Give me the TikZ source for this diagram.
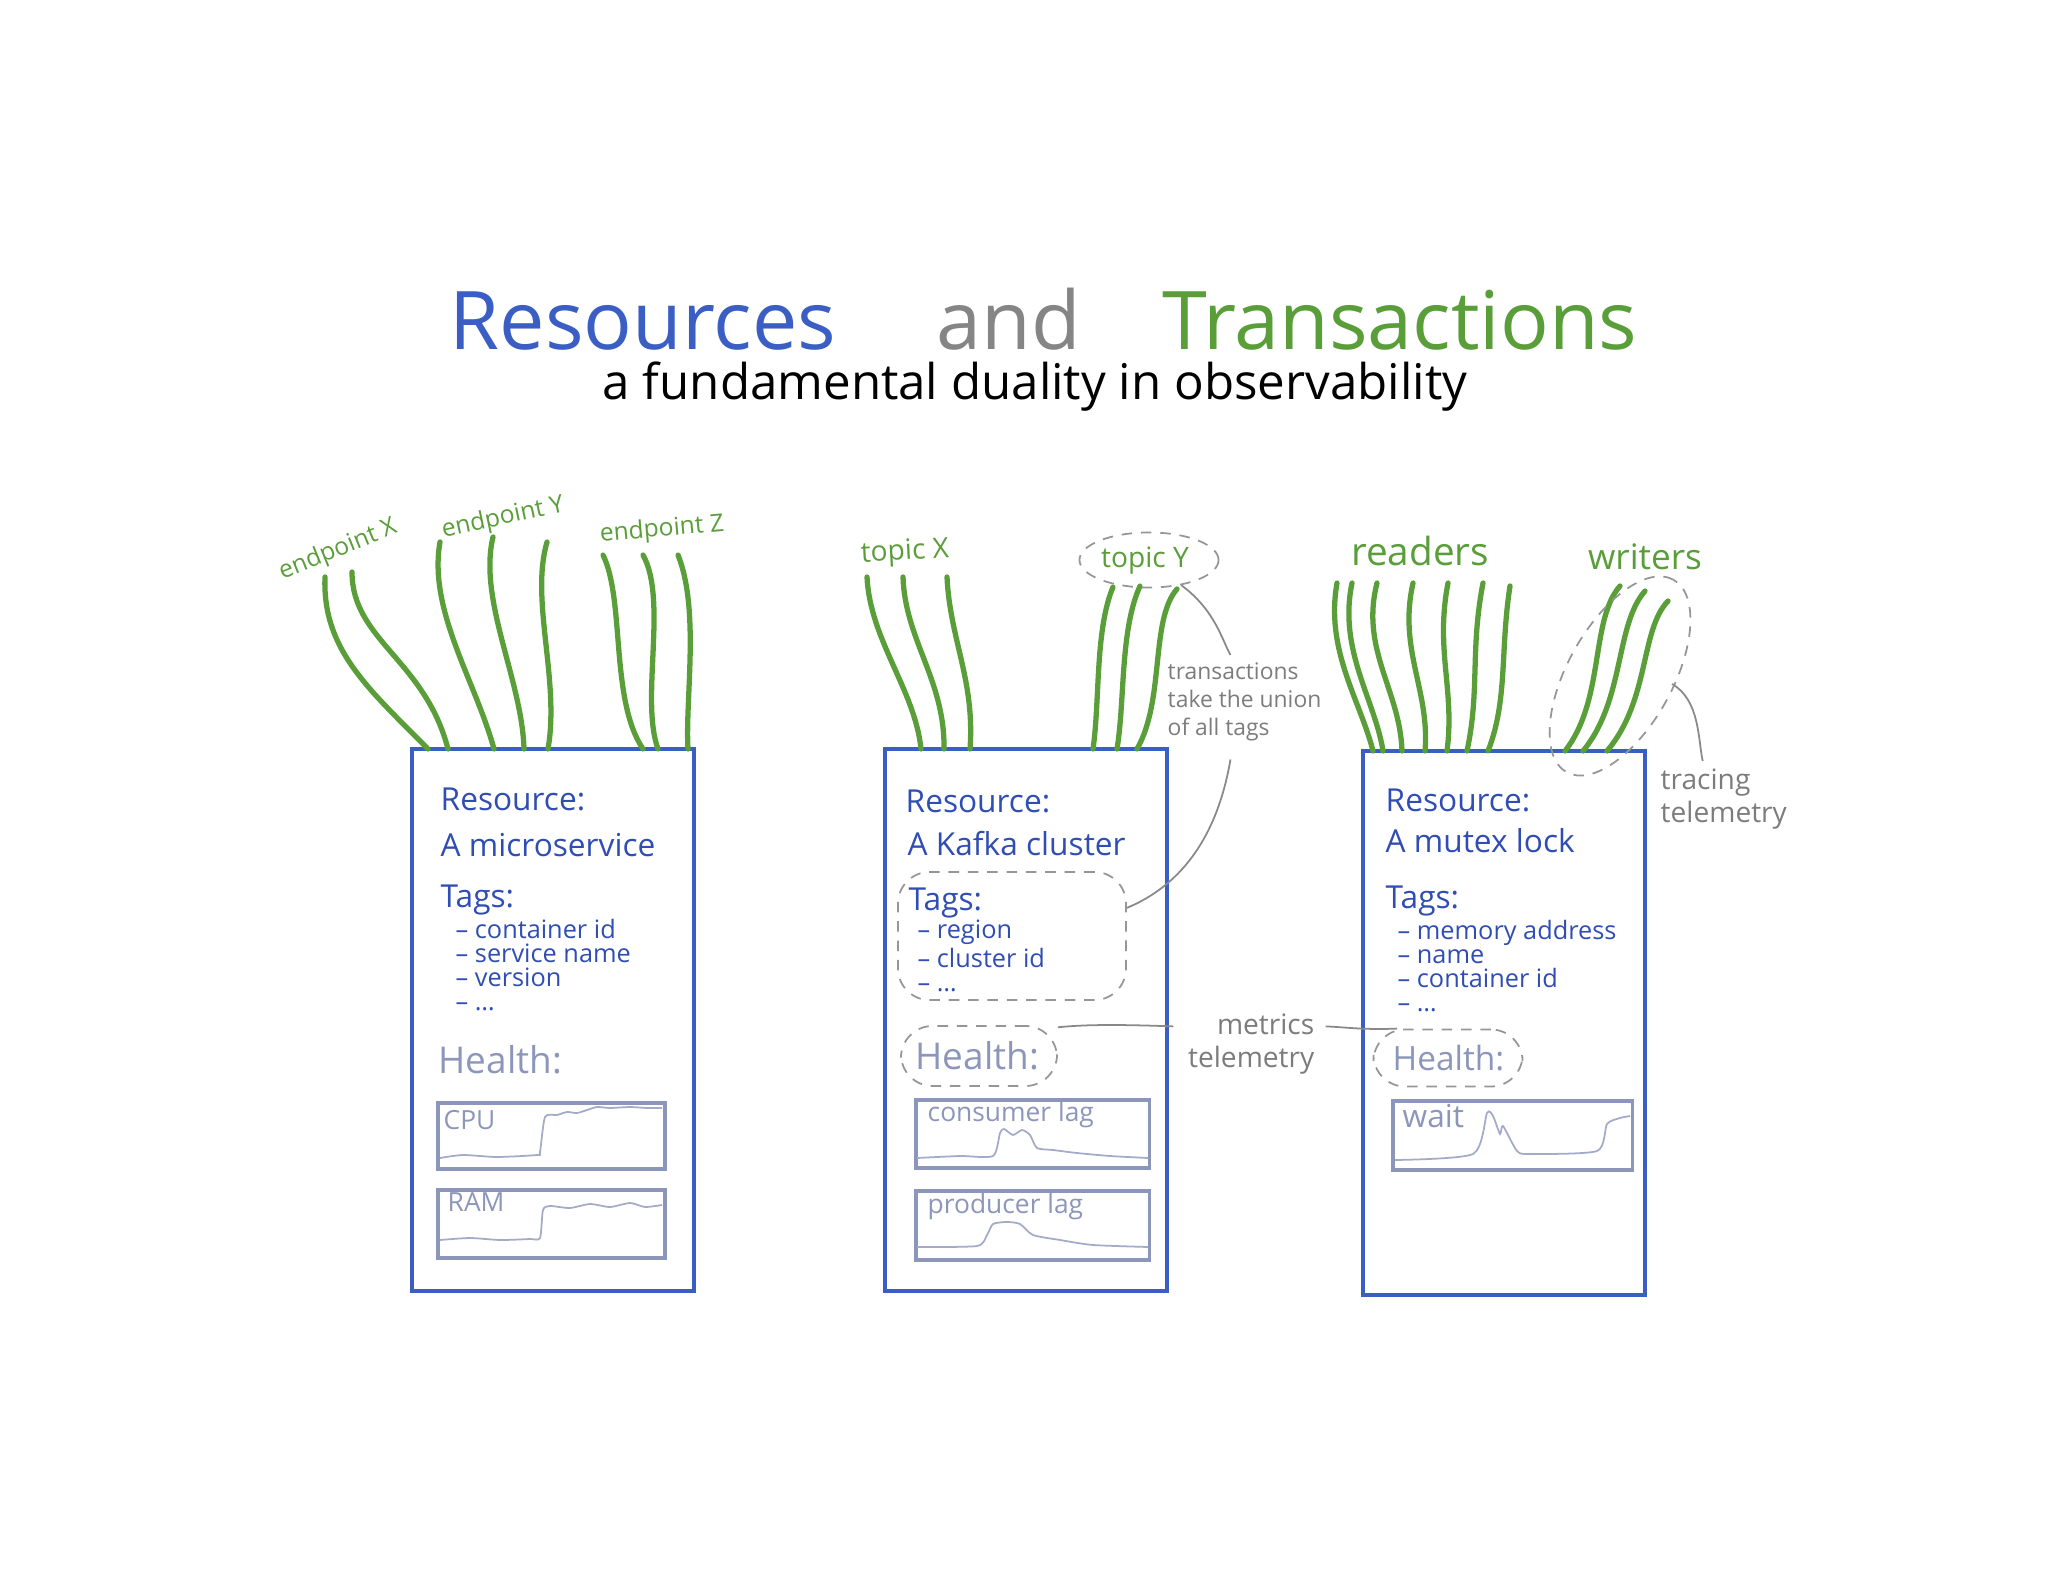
\documentclass[tikz,border=0pt]{standalone}
\usepackage{fontspec}
\setmainfont{Open Sans}
\usetikzlibrary{shapes.geometric}

\definecolor{resblue}{HTML}{3A5EC4}
\definecolor{boxtext}{HTML}{2F4DB3}
\definecolor{txgreen}{HTML}{5A9E3A}
\definecolor{andgray}{HTML}{858585}
\definecolor{healthgray}{HTML}{8C96BA}
\definecolor{notegray}{HTML}{7C7C7C}

\begin{document}
\begin{tikzpicture}[
    x=0.01cm, y=-0.01cm,
    titleword/.style={font=\fontsize{23}{27}\selectfont},
    subtitle/.style={font=\fontsize{14}{16}\selectfont, text=black},
    resbox/.style={draw=resblue, line width=1.1pt, minimum width=2.82cm, minimum height=5.42cm, inner sep=0pt},
    head/.style={anchor=west, inner sep=0pt, text=boxtext, font=\fontsize{9}{11}\selectfont},
    taglist/.style={anchor=north west, align=left, inner sep=0pt, text=boxtext, font=\fontsize{7.2}{6.8}\selectfont},
    healthtxt/.style={anchor=west, inner sep=0pt, text=healthgray, font=\fontsize{10.5}{12}\selectfont},
    chart/.style={draw=healthgray, line width=0.9pt, inner sep=0pt},
    chartlabel/.style={anchor=west, inner sep=0pt, text=healthgray, font=\fontsize{7.5}{9}\selectfont},
    trace/.style={draw=healthgray!80, line width=0.5pt},
    strand/.style={draw=txgreen, line width=1.5pt, line cap=round},
    tlabel/.style={text=txgreen, inner sep=0pt, font=\fontsize{8}{9}\selectfont},
    ring/.style={draw=notegray!80, dashed, dash pattern=on 3pt off 2.5pt, line width=0.5pt, rounded corners=9pt, inner sep=0pt},
    leader/.style={draw=notegray!90, line width=0.5pt},
    note/.style={text=notegray, inner sep=0pt, font=\fontsize{8}{9.4}\selectfont}
]
\useasboundingbox (0,0) rectangle (2049,1589);

% title
\node[titleword, text=resblue, anchor=base] (wres) at (643,350) {Resources};
\node[titleword, text=andgray, anchor=base] (wand) at (1009,350) {and};
\node[titleword, text=txgreen, anchor=base] (wtx) at (1400,350) {Transactions};
\node[subtitle, anchor=base] (sub) at (1035,400) {a fundamental duality in observability};

% the three resources
\node[resbox] (box1) at (553,1020) {};
\node[resbox] (box2) at (1026,1020) {};
\node[resbox, minimum height=5.44cm] (box3) at (1504,1023) {};

% microservice
\node[head] (m-res) at (440,799) {Resource:};
\node[head] (m-name) at (440,845) {A microservice};
\node[head] (m-tags) at (440,900) {Tags:};
\node[taglist] (m-list) at (455,919) {-- container id\\-- service name\\-- version\\-- \dots};
\node[healthtxt] (m-health) at (438,1060) {Health:};

\node[chart, minimum width=2.27cm, minimum height=0.66cm] (cpu) at (551.5,1136) {};
\node[chartlabel] at (443,1120) {CPU};
\draw[trace] plot[smooth, tension=0.4] coordinates {(440,1158) (463,1155) (497,1157) (537,1155) (540,1152) (545,1117) (557,1115) (567,1112) (577,1113) (587,1110) (597,1107) (610,1108) (630,1107) (647,1108) (662,1108)};

\node[chart, minimum width=2.27cm, minimum height=0.68cm] (ram) at (551.5,1224) {};
\node[chartlabel] at (447,1202) {RAM};
\draw[trace] plot[smooth, tension=0.4] coordinates {(440,1240) (470,1238) (500,1240) (530,1239) (540,1238) (543,1210) (550,1206) (570,1208) (590,1204) (610,1207) (630,1203) (645,1207) (662,1205)};

% kafka cluster
\node[head] (k-res) at (905,801) {Resource:};
\node[head] (k-name) at (907,844) {A Kafka cluster};
\node[head] (k-tags) at (908,903) {Tags:};
\node[taglist] (k-list) at (917,919) {-- region\\-- cluster id\\-- \dots};
\node[healthtxt] (k-health) at (915,1056) {Health:};
\node[ring, minimum width=2.28cm, minimum height=1.28cm] (tagring) at (1012,936) {};
\node[ring, minimum width=1.56cm, minimum height=0.6cm] (hring2) at (979,1056) {};

\node[chart, minimum width=2.33cm, minimum height=0.68cm] (clag) at (1032.5,1134) {};
\node[chartlabel] at (927,1115) {consumer lag};
\draw[trace] plot[smooth, tension=0.4] coordinates {(917,1158) (960,1156) (993,1156) (1000,1133) (1004,1129) (1013,1135) (1022,1130) (1030,1135) (1037,1148) (1053,1150) (1077,1153) (1110,1156) (1148,1158)};

\node[chart, minimum width=2.33cm, minimum height=0.69cm] (plag) at (1032.5,1225.5) {};
\node[chartlabel] at (927,1207) {producer lag};
\draw[trace] plot[smooth, tension=0.4] coordinates {(917,1247) (977,1246) (987,1235) (993,1224) (1007,1222) (1020,1224) (1033,1235) (1060,1240) (1093,1245) (1148,1247)};

% mutex lock
\node[head] (x-res) at (1385,800) {Resource:};
\node[head] (x-name) at (1385,841) {A mutex lock};
\node[head] (x-tags) at (1385,901) {Tags:};
\node[taglist] (x-list) at (1397,920) {-- memory address\\-- name\\-- container id\\-- \dots};
\node[healthtxt, font=\fontsize{9.5}{11}\selectfont] (x-health) at (1392,1058) {Health:};
\node[ring, minimum width=1.49cm, minimum height=0.57cm] (hring3) at (1448,1058) {};

\node[chart, minimum width=2.39cm, minimum height=0.69cm] (wait) at (1512.5,1135.5) {};
\node[chartlabel, font=\fontsize{9}{10}\selectfont] at (1402,1116) {wait};
\draw[trace] plot[smooth, tension=0.4] coordinates {(1395,1160) (1473,1154) (1487,1113) (1493,1116) (1500,1134) (1503,1126) (1517,1151) (1530,1154) (1597,1151) (1607,1124) (1620,1118) (1630,1116)};

% endpoint X
\node[tlabel, font=\fontsize{7}{8}\selectfont, rotate=22] (epx) at (338,550) {endpoint X};
\draw[strand] (325,577) .. controls (322,650) and (370,690) .. (428,749);
\draw[strand] (352,572) .. controls (352,640) and (425,660) .. (448,749);

% endpoint Y
\node[tlabel, font=\fontsize{7}{8}\selectfont, rotate=12] (epy) at (503,518) {endpoint Y};
\draw[strand] (440,542) .. controls (428,610) and (475,680) .. (494,749);
\draw[strand] (493,537) .. controls (478,600) and (522,680) .. (524,749);
\draw[strand] (547,542) .. controls (530,600) and (560,680) .. (548,749);

% endpoint Z
\node[tlabel, font=\fontsize{7}{8}\selectfont, rotate=5] (epz) at (662,530) {endpoint Z};
\draw[strand] (603,555) .. controls (625,600) and (610,700) .. (643,749);
\draw[strand] (643,555) .. controls (668,600) and (640,700) .. (658,749);
\draw[strand] (678,555) .. controls (700,610) and (685,700) .. (688,749);

% topic X
\node[tlabel, rotate=3] (tpx) at (905,553) {topic X};
\draw[strand] (867,577) .. controls (870,640) and (915,690) .. (921,749);
\draw[strand] (903,577) .. controls (905,640) and (945,680) .. (944,749);
\draw[strand] (947,577) .. controls (950,640) and (975,680) .. (970,749);

% topic Y
\node[tlabel] (tpy) at (1145,561) {topic Y};
\node[ring, ellipse, rounded corners=0pt, minimum width=1.39cm, minimum height=0.55cm] (tyring) at (1149,560) {};
\draw[strand] (1113,587) .. controls (1095,630) and (1100,700) .. (1093,749);
\draw[strand] (1140,586) .. controls (1120,630) and (1125,700) .. (1117,749);
\draw[strand] (1177,589) .. controls (1150,620) and (1165,700) .. (1137,749);

% readers
\node[tlabel, font=\fontsize{11}{12}\selectfont] (rdr) at (1420,551) {readers};
\draw[strand] (1337,583) .. controls (1325,650) and (1360,700) .. (1373,751);
\draw[strand] (1352,583) .. controls (1338,650) and (1375,700) .. (1383,751);
\draw[strand] (1377,583) .. controls (1360,650) and (1400,690) .. (1402,751);
\draw[strand] (1413,583) .. controls (1398,650) and (1430,690) .. (1425,751);
\draw[strand] (1448,583) .. controls (1435,650) and (1455,690) .. (1447,751);
\draw[strand] (1483,583) .. controls (1470,650) and (1480,690) .. (1467,751);
\draw[strand] (1510,586) .. controls (1500,650) and (1508,700) .. (1488,751);

% writers
\node[tlabel, font=\fontsize{10}{11}\selectfont] (wrt) at (1645,557) {writers};
\draw[strand] (1620,586) .. controls (1590,620) and (1605,700) .. (1565,751);
\draw[strand] (1645,591) .. controls (1615,625) and (1625,700) .. (1583,751);
\draw[strand] (1668,601) .. controls (1640,630) and (1650,700) .. (1607,751);
\node[ring, ellipse, rounded corners=0pt, rotate=61, minimum width=2.2cm, minimum height=1.05cm] (wring) at (1620,676) {};

% notes
\node[note, font=\fontsize{6.5}{8}\selectfont, align=left, anchor=north west] (txnote) at (1167,662) {transactions\\take the union\\of all tags};
\draw[leader] (tyring.-38) .. controls (1215,610) and (1222,640) .. ([xshift=-4pt,yshift=2pt]txnote.north);
\draw[leader] ([xshift=-4pt,yshift=-5pt]txnote.south) .. controls (1215,850) and (1170,890) .. ([yshift=8pt]tagring.east);

\node[note, align=right, anchor=east] (mtnote) at (1315,1044) {metrics\\telemetry};
\draw[leader] (hring2.20) .. controls (1080,1025) and (1110,1024) .. ([xshift=-4pt,yshift=5pt]mtnote.west);
\draw[leader] ([xshift=3pt,yshift=5pt]mtnote.east) .. controls (1345,1027) and (1360,1030) .. (hring3.150);

\coordinate (trstart) at (1672,684);
\node[note, align=left, anchor=north west] (trnote) at (1660,768) {tracing\\telemetry};
\draw[leader] (trstart) .. controls (1700,700) and (1698,740) .. ([xshift=-6pt,yshift=2pt]trnote.north);

\end{tikzpicture}
\end{document}
